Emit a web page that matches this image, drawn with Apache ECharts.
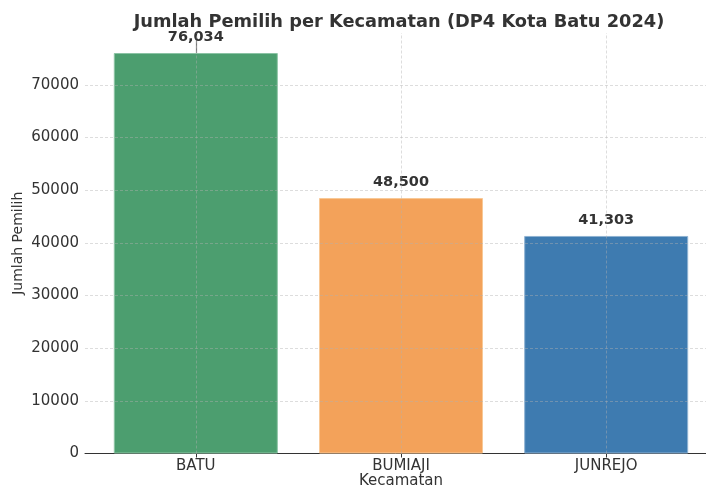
<!DOCTYPE html>
<html>
<head>
<meta charset="utf-8">
<script src="https://cdn.jsdelivr.net/npm/echarts@6/dist/echarts.min.js"></script>
<style>html,body{margin:0;padding:0;background:#fff}#c{width:706px;height:489px}</style>
</head>
<body>
<div id="c"></div>
<script>
const categories = ["BATU", "BUMIAJI", "JUNREJO"];
const values = [76034, 48500, 41303];
const colors = ["#4c9e6f", "#f3a25a", "#3e7bb0"];
const edgeColors = ["#8cc4a4", "#f8c896", "#8fb3d3"];
const yTicks = [0, 10000, 20000, 30000, 40000, 50000, 60000, 70000];
const xTicks = [0, 1, 2];

const font = "DejaVu Sans";
const chart = echarts.init(document.getElementById('c'));
const gridStyle = {color: 'rgba(176,176,176,0.55)', type: [3, 2], width: 0.8};
const markData = [];
yTicks.forEach(v => { if (v > 0) markData.push({yAxis: v}); });
xTicks.forEach(v => markData.push({xAxis: v}));

chart.setOption({
  animation: false,
  title: {
    text: "Jumlah Pemilih per Kecamatan (DP4 Kota Batu 2024)",
    left: 394, top: 8, textAlign: 'center',
    textStyle: {fontFamily: font, fontWeight: 'bold', fontSize: 17.8, color: '#333'}
  },
  grid: {left: 85, right: -11, top: 33, bottom: 35.5, containLabel: false, outerBoundsMode: 'none'},
  xAxis: {
    type: 'value', min: -0.54, max: 2.54,
    name: 'Kecamatan', nameLocation: 'middle', nameGap: 20, nameMoveOverlap: false,
    nameTextStyle: {fontFamily: font, fontSize: 15, color: '#333'},
    axisLine: {show: true, lineStyle: {color: '#333', width: 1}},
    axisTick: {show: true, customValues: xTicks, length: 4, lineStyle: {color: '#333'}},
    axisLabel: {customValues: xTicks, formatter: v => categories[Math.round(v)] || '',
      fontFamily: font, fontSize: 15, color: '#333', margin: 5},
    splitLine: {show: false}
  },
  yAxis: {
    type: 'value', min: 0, max: 79836,
    name: 'Jumlah Pemilih', nameLocation: 'middle', nameGap: 60, nameRotate: 90, nameMoveOverlap: false,
    nameTextStyle: {fontFamily: font, fontSize: 14, color: '#333'},
    axisLine: {show: true, lineStyle: {color: '#777', width: 1.2}},
    axisTick: {show: true, customValues: yTicks, length: 4, lineStyle: {color: '#555'}},
    axisLabel: {customValues: yTicks, formatter: v => String(v),
      fontFamily: font, fontSize: 15, color: '#333', margin: 6},
    splitLine: {show: false}
  },
  series: [{
    type: 'bar',
    barWidth: 164,
    data: values.map((v, i) => ({value: [i, v], itemStyle: {color: colors[i], borderColor: edgeColors[i], borderWidth: 1}})),
    label: {
      show: true, position: 'top', distance: 8,
      formatter: p => p.value[1].toLocaleString('en-US'),
      fontFamily: font, fontWeight: 'bold', fontSize: 14.5, color: '#333'
    },
    markLine: {
      silent: true, symbol: 'none', label: {show: false},
      lineStyle: gridStyle, data: markData
    }
  }]
});
</script>
</body>
</html>
